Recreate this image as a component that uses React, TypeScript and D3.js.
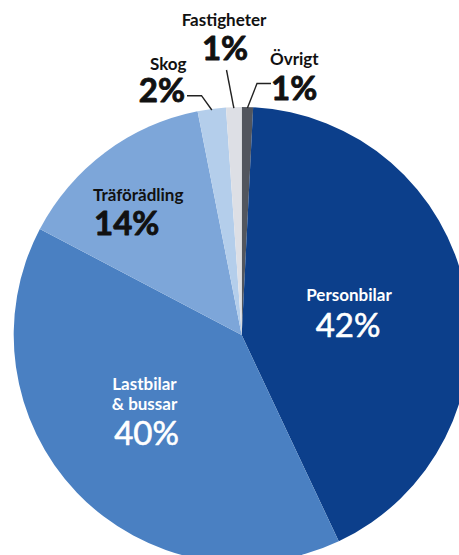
import React from "react";
import * as d3 from "d3";

const categories = ["Övrigt", "Personbilar", "Lastbilar & bussar", "Träförädling", "Skog", "Fastigheter"];
const values = [0.8, 42.2, 39.7, 14.2, 2.0, 1.1];
const percentLabels = ["1%", "42%", "40%", "14%", "2%", "1%"];
const nameLines = [["Övrigt"], ["Personbilar"], ["Lastbilar", "& bussar"], ["Träförädling"], ["Skog"], ["Fastigheter"]];

const colors = ["#52565e", "#0c3f8b", "#4a80c2", "#7da6d9", "#b4ceeb", "#dddfe5"];

const W = 459;
const H = 555;
const CX = 241.7;
const CY = 335;
const R = 228;

const layout = [
  { anchor: "start", x: 270, nameY: 65, pctX: 271, pctY: 100, color: "#111", inside: false, elbow: [[271, 83.5], [257, 83.5]] },
  { anchor: "middle", x: 349, nameY: 300.5, pctX: 348, pctY: 337, color: "#fff", inside: true, elbow: null },
  { anchor: "middle", x: 144.5, nameY: 389.5, pctX: 146.5, pctY: 444.5, color: "#fff", inside: true, elbow: null },
  { anchor: "start", x: 93, nameY: 200.5, pctX: 94, pctY: 235, color: "#111", inside: false, elbow: null },
  { anchor: "end", x: 186.5, nameY: 70, pctX: 185, pctY: 102, color: "#111", inside: false, elbow: [[187, 95.7], [201.5, 95.7]] },
  { anchor: "middle", x: 224, nameY: 26, pctX: 225, pctY: 60, color: "#111", inside: false, elbow: [[226.5, 70]] },
];

export default function App() {
  const pie = d3
    .pie<number>()
    .sort(null)
    .value((d) => d)
    .startAngle(0)
    .endAngle(2 * Math.PI);
  const arcs = pie(values);
  const arc = d3.arc<d3.PieArcDatum<number>>().innerRadius(0).outerRadius(R);

  return (
    <svg
      width={W}
      height={H}
      style={{ position: "absolute", left: 0, top: 0, background: "#fff" }}
      fontFamily="Lato, 'Noto Sans', sans-serif"
    >
      <g transform={`translate(${CX},${CY})`}>
        {arcs.map((a, i) => (
          <path key={categories[i]} d={arc(a) || ""} fill={colors[i]} />
        ))}
      </g>
      {arcs.map((a, i) => {
        const L = layout[i];
        if (!L.elbow) return null;
        const mid = (a.startAngle + a.endAngle) / 2;
        const ex = CX + (R - 1) * Math.sin(mid);
        const ey = CY - (R - 1) * Math.cos(mid);
        const pts = [...L.elbow, [ex, ey]];
        const line = d3.line()(pts as [number, number][]);
        return <path key={"l" + i} d={line || ""} fill="none" stroke="#222" strokeWidth={1.4} />;
      })}
      {arcs.map((a, i) => {
        const L = layout[i];
        return (
          <g key={"t" + i} fill={L.color}>
            {nameLines[i].map((s, j) => (
              <text
                key={j}
                x={L.x}
                y={L.nameY + j * 20}
                textAnchor={L.anchor as any}
                fontSize={17}
                fontWeight={700}
              >
                {s}
              </text>
            ))}
            <text
              x={L.pctX}
              y={L.pctY}
              textAnchor={L.anchor as any}
              fontSize={33}
              fontWeight={L.inside ? 400 : 700}
              stroke={L.color}
              strokeWidth={L.inside ? 0.6 : 0.9}
              strokeLinejoin="round"
            >
              {percentLabels[i]}
            </text>
          </g>
        );
      })}
    </svg>
  );
}
